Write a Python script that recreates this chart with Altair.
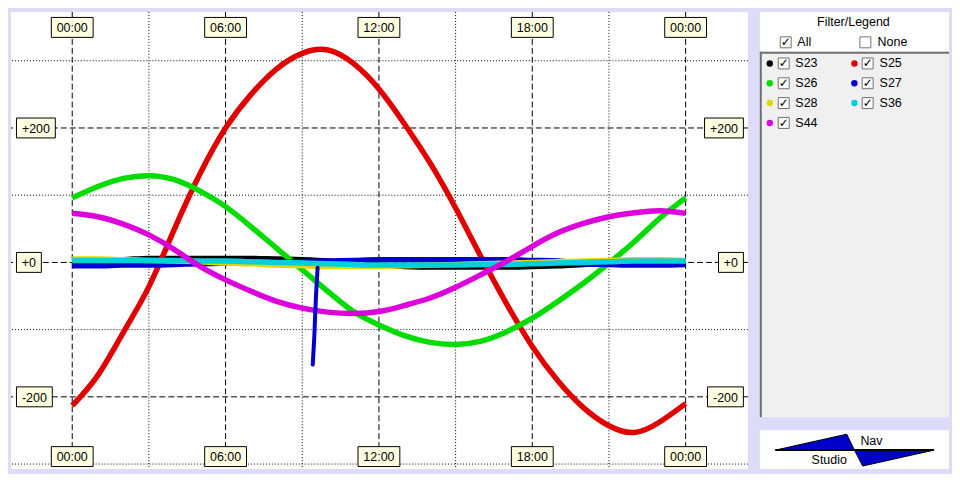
import altair as alt
import pandas as pd

# ---------------- data ----------------
HOURS = list(range(25))
S23 = [2, 3, 4, 6, 6, 6, 6, 6, 5, 4, 2, -2, -4, -6, -7, -7, -7, -7, -6, -5, -3, -1, 0, 0, 0]
S25 = [-213, -168, -104, -36, 50, 132, 200, 250, 288, 311, 316, 296, 258, 206, 148, 81, 8,
       -62, -125, -176, -216, -243, -253, -237, -210]
S26 = [96, 113, 125, 129, 123, 106, 83, 53, 21, -11, -43, -73, -93, -109, -119, -122, -117,
       -103, -83, -58, -31, -1, 31, 66, 96]
S27 = [-5, -5, -4, -4, -3, -2, -1, 0, 0, 1, 2, 3, 4, 4, 4, 4, 4, 4, 3, 2, -2, -3, -4, -4, -3]
S28 = [5, 5, 4, 3, 2, 1, -1, -2, -4, -5, -6, -6, -6, -5, -4, -3, -2, -1, 0, 1, 2, 3, 4, 4, 3]
S36 = [3, 3, 3, 3, 3, 2, 2, 1, 0, -1, -2, -3, -4, -4, -4, -4, -3, -3, -2, -1, 0, 1, 2, 2, 2]
S44 = [73, 68, 57, 41, 19, -6, -26, -43, -58, -68, -74, -76, -73, -64, -53, -37, -18, 2, 24,
       44, 58, 68, 74, 77, 73]
SPIKE_T = [9.60, 9.54, 9.50, 9.47, 9.41]
SPIKE_V = [-8, -48, -83, -112, -152]

SERIES = ["S23", "S25", "S26", "S27", "S28", "S36", "S44"]
VALUES = [S23, S25, S26, S27, S28, S36, S44]
COLORS = ["#000000", "#E00000", "#00DC00", "#0000D0", "#E0D800", "#00D0DC", "#DC00DC"]
SMOOTH = ["monotone", "natural", "natural", "monotone", "monotone", "monotone", "natural"]

TIME_TICKS = [0, 6, 12, 18, 24]
TIME_LABELS = ["00:00", "06:00", "12:00", "18:00", "00:00"]
MINOR_HOURS = [3, 9, 15, 21]
VALUE_TICKS = [200, 0, -200]
VALUE_LABELS = ["+200", "+0", "-200"]
MINOR_VALUES = [-300, -100, 100, 300]

# ---------------- layout ----------------
FONT = "Liberation Sans"
FS = 12.5
W, H = 740, 459
PXH = 616 / 24.0
X0 = -61.5 / PXH
X1 = X0 + W / PXH
PXV = 0.675
YT = 251.5 / PXV
YB = YT - H / PXV

xs = alt.Scale(domain=[X0, X1], nice=False, zero=False)
ys = alt.Scale(domain=[YB, YT], nice=False, zero=False)

BOX_FILL = "#FFFFE1"
CW = {"0": 0.556, "1": 0.556, "2": 0.556, "3": 0.556, "4": 0.556, "5": 0.556, "6": 0.556,
      "7": 0.556, "8": 0.556, "9": 0.556, "+": 0.584, "-": 0.333, ":": 0.278}


def box_w(s):
    return round(sum(CW.get(c, 0.55) for c in s) * FS) + 11


def X(f="t"):
    return alt.X(f + ":Q", scale=xs, axis=None)


def Y(f="v"):
    return alt.Y(f + ":Q", scale=ys, axis=None)


layers = []
# grid
layers.append(alt.Chart(pd.DataFrame({"t": TIME_TICKS})).mark_rule(
    color="black", strokeWidth=1, strokeDash=[6, 3]).encode(x=X()))
layers.append(alt.Chart(pd.DataFrame({"t": MINOR_HOURS})).mark_rule(
    color="black", strokeWidth=1, strokeDash=[1, 2]).encode(x=X()))
layers.append(alt.Chart(pd.DataFrame({"v": VALUE_TICKS})).mark_rule(
    color="black", strokeWidth=1, strokeDash=[6, 3]).encode(y=Y()))
layers.append(alt.Chart(pd.DataFrame({"v": MINOR_VALUES})).mark_rule(
    color="black", strokeWidth=1, strokeDash=[1, 2]).encode(y=Y()))

# time label boxes (top and bottom)
tl = pd.DataFrame({"t": TIME_TICKS, "label": TIME_LABELS})
tl["x1"] = tl["t"] - 21 / PXH
tl["x2"] = tl["t"] + 21 / PXH
for ytop in (5.5, 436.5):
    layers.append(alt.Chart(tl).mark_rect(fill=BOX_FILL, stroke="black", strokeWidth=1).encode(
        x=X("x1"), x2="x2:Q", y=alt.value(ytop), y2=alt.value(ytop + 20)))
    layers.append(alt.Chart(tl).mark_text(font=FONT, fontSize=FS, color="black",
                                          baseline="middle", align="center").encode(
        x=X("t"), y=alt.value(ytop + 10.5), text="label:N"))

# value label boxes (left and right)
vl = pd.DataFrame({"v": VALUE_TICKS, "label": VALUE_LABELS})
vl["w"] = [box_w(s) for s in VALUE_LABELS]
vl["y1"] = vl["v"] - 10 / PXV
vl["y2"] = vl["v"] + 10 / PXV
left = vl.copy()
left["x1"] = X0 + 5.5 / PXH
left["x2"] = X0 + (5.5 + left["w"]) / PXH
right = vl.copy()
right["x2"] = X0 + 735.5 / PXH
right["x1"] = right["x2"] - right["w"] / PXH
for d in (left, right):
    d["xm"] = (d["x1"] + d["x2"]) / 2
    layers.append(alt.Chart(d).mark_rect(fill=BOX_FILL, stroke="black", strokeWidth=1).encode(
        x=X("x1"), x2="x2:Q", y=Y("y1"), y2="y2:Q"))
    layers.append(alt.Chart(d).mark_text(font=FONT, fontSize=FS, color="black",
                                         baseline="middle", align="center", dy=1).encode(
        x=X("xm"), y=Y("v"), text="label:N"))

# series lines
for name, vals, col, interp in zip(SERIES, VALUES, COLORS, SMOOTH):
    df = pd.DataFrame({"t": HOURS, "v": vals, "series": name})
    layers.append(alt.Chart(df).mark_line(color=col, strokeWidth=5.5, interpolate=interp).encode(
        x=X(), y=Y()))
spike = pd.DataFrame({"t": SPIKE_T, "v": SPIKE_V})
layers.append(alt.Chart(spike).mark_line(color=COLORS[3], strokeWidth=4, strokeCap="round").encode(
    x=X(), y=Y()))

main = alt.layer(*layers).properties(width=W, height=H,
                                     view=alt.ViewBackground(fill="white", strokeWidth=0))

# ---------------- side panel (legend + logo) ----------------
SW = 190
sx = alt.Scale(domain=[0, SW], nice=False, zero=False)
sy = alt.Scale(domain=[0, H], nice=False, zero=False, reverse=True)


def SX(f="x"):
    return alt.X(f + ":Q", scale=sx, axis=None)


def SY(f="y"):
    return alt.Y(f + ":Q", scale=sy, axis=None)


side = []
panels = pd.DataFrame({
    "x": [0, 0, 0], "x2": [SW, SW, SW],
    "y": [0, 40, 420], "y2": [40, 407, 459],
    "fill": ["#FFFFFF", "#F0F0F0", "#FFFFFF"],
})
side.append(alt.Chart(panels).mark_rect().encode(
    x=SX(), x2="x2:Q", y=SY(), y2="y2:Q", fill=alt.Fill("fill:N", scale=None)))
# sunken border of the legend panel
side.append(alt.Chart(pd.DataFrame({"x": [0], "x2": [SW], "y": [41]})).mark_rule(
    color="#707070", strokeWidth=2).encode(x=SX(), x2="x2:Q", y=SY()))
side.append(alt.Chart(pd.DataFrame({"x": [1], "y": [40], "y2": [407]})).mark_rule(
    color="#707070", strokeWidth=2).encode(x=SX(), y=SY(), y2="y2:Q"))

side.append(alt.Chart(pd.DataFrame({"x": [94], "y": [10], "label": ["Filter/Legend"]})).mark_text(
    font=FONT, fontSize=FS, color="black", align="center", baseline="middle").encode(
    x=SX(), y=SY(), text="label:N"))

# All / None checkboxes
boxes = pd.DataFrame({"x": [26, 106], "y": [30.5, 30.5], "checked": [True, False]})
side.append(alt.Chart(boxes).mark_square(size=121, fill="white", stroke="#707070",
                                         strokeWidth=1, opacity=1).encode(x=SX(), y=SY()))
side.append(alt.Chart(boxes[boxes["checked"]].assign(label="✓")).mark_text(
    font="DejaVu Sans", fontSize=12, fontWeight="bold", color="black",
    align="center", baseline="middle").encode(x=SX(), y=SY(), text="label:N"))
side.append(alt.Chart(pd.DataFrame({"x": [37.7, 118.3], "y": [30.5, 30.5],
                                    "label": ["All", "None"]})).mark_text(
    font=FONT, fontSize=FS, color="black", align="left", baseline="middle").encode(
    x=SX(), y=SY(), text="label:N"))

# legend entries
leg = pd.DataFrame({"series": SERIES, "color": COLORS})
leg["row"] = [i // 2 for i in range(len(SERIES))]
leg["col"] = [i % 2 for i in range(len(SERIES))]
leg["y"] = 51.7 + 19.9 * leg["row"]
leg["xd"] = 10 + 85 * leg["col"]
leg["xb"] = 24 + 84.3 * leg["col"]
leg["xt"] = 35.7 + 84.6 * leg["col"]
leg["check"] = "✓"
side.append(alt.Chart(leg).mark_circle(size=42, opacity=1).encode(
    x=SX("xd"), y=SY(), color=alt.Color("color:N", scale=None)))
side.append(alt.Chart(leg).mark_square(size=121, fill="white", stroke="#707070",
                                       strokeWidth=1, opacity=1).encode(x=SX("xb"), y=SY()))
side.append(alt.Chart(leg).mark_text(font="DejaVu Sans", fontSize=12, fontWeight="bold",
                                     color="black", align="center", baseline="middle").encode(
    x=SX("xb"), y=SY(), text="check:N"))
side.append(alt.Chart(leg).mark_text(font=FONT, fontSize=FS, color="black",
                                     align="left", baseline="middle").encode(
    x=SX("xt"), y=SY(), text="series:N"))

# Nav Studio logo
logo_l = pd.DataFrame({"x": [15.7, 87.3, 95], "y": [440, 424, 440], "base": [440, 440, 440]})
logo_r = pd.DataFrame({"x": [95, 103.3, 175], "y": [440, 456, 440], "base": [440, 440, 440]})
for d in (logo_l, logo_r):
    side.append(alt.Chart(d).mark_area(color="#0000C8", stroke="black", strokeWidth=1,
                                       opacity=1).encode(x=SX(), y=SY(), y2="base:Q"))
side.append(alt.Chart(pd.DataFrame({"x": [15.7], "x2": [175], "y": [440]})).mark_rule(
    color="black", strokeWidth=2).encode(x=SX(), x2="x2:Q", y=SY()))
side.append(alt.Chart(pd.DataFrame({"x": [101, 52], "y": [431, 450],
                                    "label": ["Nav", "Studio"]})).mark_text(
    font=FONT, fontSize=FS, color="black", align="left", baseline="middle").encode(
    x=SX(), y=SY(), text="label:N"))

side_chart = alt.layer(*side).properties(width=SW, height=H)

chart = alt.hconcat(main, side_chart, spacing=10).resolve_scale(
    x="independent", y="independent").properties(
    padding={"left": 2, "top": 2, "right": 2, "bottom": 3},
    background="#DCDCF8",
).configure_view(strokeWidth=0)

chart.save("out.html", embed_options={"renderer": "svg", "actions": False})
